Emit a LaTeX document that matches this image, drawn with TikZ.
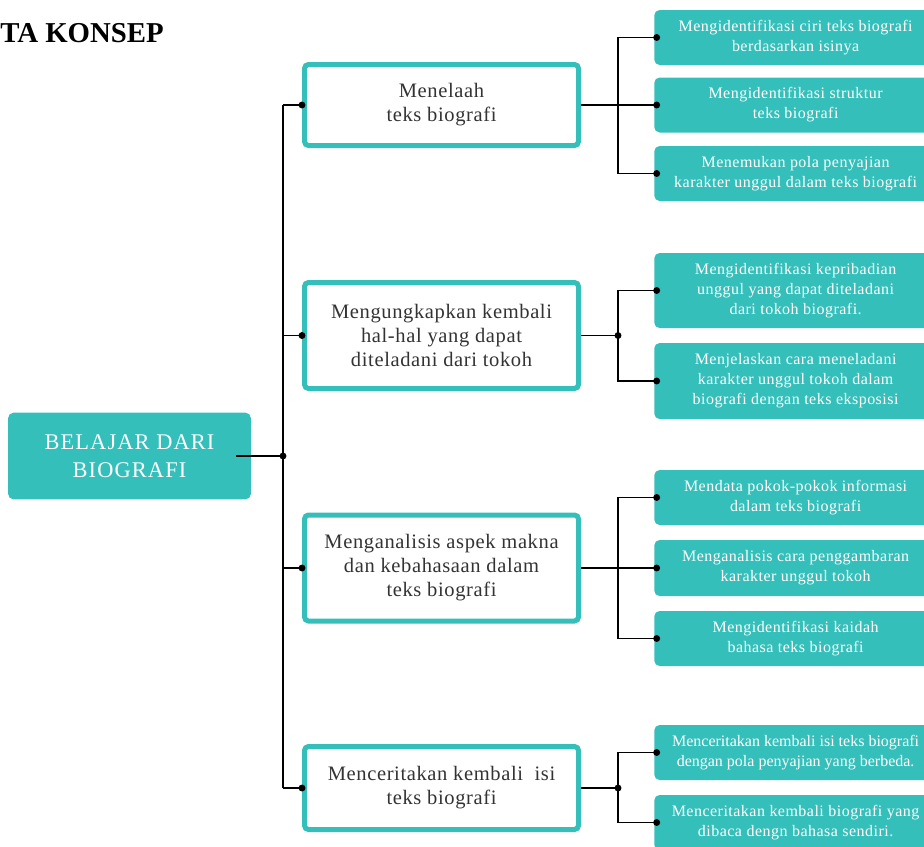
\documentclass[tikz,border=0pt]{standalone}
\usepackage{fontspec}
\setmainfont{Liberation Serif}
\newfontfamily\leaffont[LetterSpace=3]{Liberation Serif}
\newfontfamily\leafrapat[LetterSpace=0]{Liberation Serif}
\newfontfamily\midfont[LetterSpace=3]{Liberation Serif}
\newfontfamily\rootfont[LetterSpace=5]{Liberation Serif}
\usetikzlibrary{positioning,calc}
\definecolor{tosca}{HTML}{35BFBA}
\definecolor{teks}{HTML}{333333}

\begin{document}
\begin{tikzpicture}[x=0.75pt,y=-0.75pt,
  rootbox/.style={fill=tosca,rounded corners=4pt,minimum width=182pt,minimum height=65pt,
    align=center,text=white,font=\rootfont\fontsize{16.8}{21}\selectfont},
  midbox/.style={draw=tosca,line width=3.75pt,rounded corners=3pt,minimum width=205.5pt,
    align=center,text=teks,font=\midfont\fontsize{15.4}{18}\selectfont},
  leafbox/.style={fill=tosca,rounded corners=4pt,minimum width=212pt,anchor=west,
    align=center,text=white,font=\leaffont\fontsize{12}{15}\selectfont},
  link/.style={line width=1.1pt}]
  \useasboundingbox (0,0) rectangle (924,846);
  \node[anchor=base west,inner sep=0pt,font=\bfseries\fontsize{21.6}{24}\selectfont] (judul) at (0,42) {TA KONSEP};

  \node[rootbox] (root) at (129.5,456) {BELAJAR DARI\\BIOGRAFI};

  \node[midbox,minimum height=60.75pt] (telaah) at (441.5,105) {Menelaah\\teks biografi};
  \node[midbox,minimum height=79.5pt] (ungkap) at (441.5,335.5) {Mengungkapkan kembali\\hal-hal yang dapat\\diteladani dari tokoh};
  \node[midbox,minimum height=79.5pt] (analisis) at (441.5,568) {Menganalisis aspek makna\\dan kebahasaan dalam\\teks biografi};
  \node[midbox,minimum height=62.25pt] (cerita) at (441.5,788) {Menceritakan kembali \ isi\\teks biografi};

  \node[leafbox,minimum height=41.25pt] (la) at (654,37.5) {Mengidentifikasi ciri teks biografi\\berdasarkan isinya};
  \node[leafbox,minimum height=41.25pt] (lb) at (654,105) {Mengidentifikasi struktur\\teks biografi};
  \node[leafbox,minimum height=41.25pt] (lc) at (654,173.5) {Menemukan pola penyajian\\karakter unggul dalam teks biografi};
  \node[leafbox,minimum height=56.25pt] (ld) at (654,290.5) {Mengidentifikasi kepribadian\\unggul yang dapat diteladani\\dari tokoh biografi.};
  \node[leafbox,minimum height=57pt] (le) at (654,381) {Menjelaskan cara meneladani\\karakter unggul tokoh dalam\\biografi dengan teks eksposisi};
  \node[leafbox,minimum height=41.25pt] (lf) at (654,497.5) {Mendata pokok-pokok informasi\\dalam teks biografi};
  \node[leafbox,minimum height=42pt] (lg) at (654,568) {Menganalisis cara penggambaran\\karakter unggul tokoh};
  \node[leafbox,minimum height=41.25pt] (lh) at (654,638.5) {Mengidentifikasi kaidah\\bahasa teks biografi};
  \node[leafbox,minimum height=41.25pt,font=\leafrapat\fontsize{12}{15}\selectfont] (li) at (654,752.5) {Menceritakan kembali isi teks biografi\\dengan pola penyajian yang berbeda.};
  \node[leafbox,minimum height=41.25pt] (lj) at (654,822.5) {Menceritakan kembali biografi yang\\dibaca dengn bahasa sendiri.};

  \coordinate (trunk) at (283,456);
  \coordinate (cabang) at (618,0);
  \draw[link] ([xshift=-11pt]root.east) -- (trunk);
  \draw[link] (telaah.west -| trunk) -- (cerita.west -| trunk);
  \foreach \m in {telaah,ungkap,analisis,cerita}{
    \draw[link] (\m.west) -- (\m.west -| trunk);
    \fill (\m.west) circle (2.6pt);
  }
  \fill (trunk) circle (2.6pt);

  \draw[link] (la.west) -| (telaah.east -| cabang) |- (lc.west);
  \draw[link] (telaah.east) -- (lb.west);
  \draw[link] (ld.west) -| (ungkap.east -| cabang) |- (le.west);
  \draw[link] (ungkap.east) -- (ungkap.east -| cabang);
  \fill (ungkap.east -| cabang) circle (2.6pt);
  \draw[link] (lf.west) -| (analisis.east -| cabang) |- (lh.west);
  \draw[link] (analisis.east) -- (lg.west);
  \draw[link] (li.west) -| (cerita.east -| cabang) |- (lj.west);
  \draw[link] (cerita.east) -- (cerita.east -| cabang);
  \fill (cerita.east -| cabang) circle (2.6pt);
  \foreach \l in {la,lb,lc,ld,le,lf,lg,lh,li,lj}
    \fill ([xshift=2pt]\l.west) circle (2.6pt);
\end{tikzpicture}
\end{document}
